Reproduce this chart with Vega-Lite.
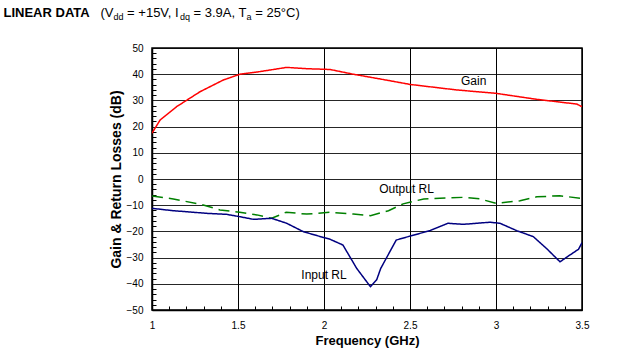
{
  "$schema": "https://vega.github.io/schema/vega-lite/v6.json",
  "autosize": "none",
  "width": 430,
  "height": 262,
  "padding": {"left": 152, "top": 48, "right": 39, "bottom": 46},
  "background": "white",
  "config": {
    "view": {"stroke": "black", "strokeWidth": 1.5},
    "font": "Liberation Sans",
    "axisTop": {
      "domain": false, "ticks": false, "labels": false, "grid": false,
      "titleFont": "Liberation Sans", "titleColor": "black", "titleFontSize": 13,
      "titleFontWeight": "normal", "titleBaseline": "alphabetic", "titleAlign": "left",
      "titleAngle": 0, "titleY": -31.5
    }
  },
  "datasets": {
    "curves": [
      {"f": 1.0, "db": 17.5, "s": "Gain"},
      {"f": 1.047, "db": 22.5, "s": "Gain"},
      {"f": 1.143, "db": 27.6, "s": "Gain"},
      {"f": 1.279, "db": 33.3, "s": "Gain"},
      {"f": 1.415, "db": 37.8, "s": "Gain"},
      {"f": 1.512, "db": 40.0, "s": "Gain"},
      {"f": 1.628, "db": 41.0, "s": "Gain"},
      {"f": 1.783, "db": 42.6, "s": "Gain"},
      {"f": 1.9, "db": 42.1, "s": "Gain"},
      {"f": 2.035, "db": 41.8, "s": "Gain"},
      {"f": 2.17, "db": 40.0, "s": "Gain"},
      {"f": 2.384, "db": 37.5, "s": "Gain"},
      {"f": 2.5, "db": 36.1, "s": "Gain"},
      {"f": 2.77, "db": 34.0, "s": "Gain"},
      {"f": 3.0, "db": 32.7, "s": "Gain"},
      {"f": 3.237, "db": 30.4, "s": "Gain"},
      {"f": 3.47, "db": 28.6, "s": "Gain"},
      {"f": 3.5, "db": 27.6, "s": "Gain"},

      {"f": 1.0, "db": -6.5, "s": "Output RL"},
      {"f": 1.124, "db": -7.6, "s": "Output RL"},
      {"f": 1.298, "db": -9.9, "s": "Output RL"},
      {"f": 1.395, "db": -11.8, "s": "Output RL"},
      {"f": 1.51, "db": -12.7, "s": "Output RL"},
      {"f": 1.61, "db": -13.7, "s": "Output RL"},
      {"f": 1.696, "db": -15.0, "s": "Output RL"},
      {"f": 1.78, "db": -12.7, "s": "Output RL"},
      {"f": 1.9, "db": -13.4, "s": "Output RL"},
      {"f": 2.035, "db": -12.7, "s": "Output RL"},
      {"f": 2.17, "db": -13.4, "s": "Output RL"},
      {"f": 2.27, "db": -14.0, "s": "Output RL"},
      {"f": 2.375, "db": -12.1, "s": "Output RL"},
      {"f": 2.46, "db": -9.5, "s": "Output RL"},
      {"f": 2.58, "db": -7.6, "s": "Output RL"},
      {"f": 2.81, "db": -7.0, "s": "Output RL"},
      {"f": 2.907, "db": -7.6, "s": "Output RL"},
      {"f": 3.0, "db": -9.3, "s": "Output RL"},
      {"f": 3.14, "db": -8.3, "s": "Output RL"},
      {"f": 3.237, "db": -6.8, "s": "Output RL"},
      {"f": 3.37, "db": -6.4, "s": "Output RL"},
      {"f": 3.5, "db": -7.4, "s": "Output RL"},

      {"f": 1.0, "db": -11.2, "s": "Input RL"},
      {"f": 1.124, "db": -12.1, "s": "Input RL"},
      {"f": 1.318, "db": -13.1, "s": "Input RL"},
      {"f": 1.434, "db": -13.5, "s": "Input RL"},
      {"f": 1.512, "db": -14.4, "s": "Input RL"},
      {"f": 1.59, "db": -15.4, "s": "Input RL"},
      {"f": 1.696, "db": -15.0, "s": "Input RL"},
      {"f": 1.783, "db": -16.9, "s": "Input RL"},
      {"f": 1.88, "db": -20.1, "s": "Input RL"},
      {"f": 1.996, "db": -22.3, "s": "Input RL"},
      {"f": 2.035, "db": -23.0, "s": "Input RL"},
      {"f": 2.11, "db": -25.2, "s": "Input RL"},
      {"f": 2.19, "db": -34.1, "s": "Input RL"},
      {"f": 2.27, "db": -41.1, "s": "Input RL"},
      {"f": 2.306, "db": -38.5, "s": "Input RL"},
      {"f": 2.33, "db": -34.1, "s": "Input RL"},
      {"f": 2.42, "db": -23.3, "s": "Input RL"},
      {"f": 2.5, "db": -21.8, "s": "Input RL"},
      {"f": 2.616, "db": -19.7, "s": "Input RL"},
      {"f": 2.72, "db": -16.9, "s": "Input RL"},
      {"f": 2.81, "db": -17.3, "s": "Input RL"},
      {"f": 2.965, "db": -16.5, "s": "Input RL"},
      {"f": 3.023, "db": -16.9, "s": "Input RL"},
      {"f": 3.12, "db": -19.7, "s": "Input RL"},
      {"f": 3.217, "db": -22.0, "s": "Input RL"},
      {"f": 3.295, "db": -26.6, "s": "Input RL"},
      {"f": 3.372, "db": -31.6, "s": "Input RL"},
      {"f": 3.43, "db": -29.0, "s": "Input RL"},
      {"f": 3.48, "db": -26.8, "s": "Input RL"},
      {"f": 3.5, "db": -24.3, "s": "Input RL"}
    ],
    "labels": [
      {"f": 2.87, "db": 37.4, "t": "Gain"},
      {"f": 2.48, "db": -3.8, "t": "Output RL"},
      {"f": 2.0, "db": -36.6, "t": "Input RL"}
    ],
    "ticks": [
      {"f": 1.0, "db": 0}
    ]
  },
  "resolve": {"axis": {"x": "independent", "y": "independent"}},
  "layer": [
    {
      "data": {"name": "ticks"},
      "mark": {"type": "point", "opacity": 0},
      "encoding": {
        "x": {
          "field": "f", "type": "quantitative",
          "scale": {"domain": [1, 3.5], "nice": false, "zero": false},
          "axis": {
            "orient": "bottom",
            "values": [1.1,1.2,1.3,1.4,1.6,1.7,1.8,1.9,2.1,2.2,2.3,2.4,2.6,2.7,2.8,2.9,3.1,3.2,3.3,3.4],
            "labels": false, "grid": false, "domain": false, "title": null,
            "ticks": true, "tickSize": -4, "tickColor": "black", "tickWidth": 1
          }
        },
        "y": {
          "field": "db", "type": "quantitative",
          "scale": {"domain": [-50, 50], "nice": false, "zero": false},
          "axis": {
            "orient": "left",
            "values": [-48,-46,-44,-42,-38,-36,-34,-32,-28,-26,-24,-22,-18,-16,-14,-12,-8,-6,-4,-2,2,4,6,8,12,14,16,18,22,24,26,28,32,34,36,38,42,44,46,48],
            "labels": false, "grid": false, "domain": false, "title": null,
            "ticks": true, "tickSize": -4, "tickColor": "black", "tickWidth": 1
          }
        }
      }
    },
    {
      "data": {"name": "ticks"},
      "mark": {"type": "point", "opacity": 0},
      "encoding": {"x": {"field": "f", "type": "quantitative", "scale": {"domain": [1, 3.5], "nice": false, "zero": false},
        "axis": {"orient": "top", "title": "LINEAR DATA", "titleX": -149, "titleFontWeight": "bold"}}}
    },
    {
      "data": {"name": "ticks"},
      "mark": {"type": "point", "opacity": 0},
      "encoding": {"x": {"field": "f", "type": "quantitative", "scale": {"domain": [1, 3.5], "nice": false, "zero": false},
        "axis": {"orient": "top", "title": "(V", "titleX": -52}}}
    },
    {
      "data": {"name": "ticks"},
      "mark": {"type": "point", "opacity": 0},
      "encoding": {"x": {"field": "f", "type": "quantitative", "scale": {"domain": [1, 3.5], "nice": false, "zero": false},
        "axis": {"orient": "top", "title": "dd", "titleX": -39, "titleY": -28.5, "titleFontSize": 9}}}
    },
    {
      "data": {"name": "ticks"},
      "mark": {"type": "point", "opacity": 0},
      "encoding": {"x": {"field": "f", "type": "quantitative", "scale": {"domain": [1, 3.5], "nice": false, "zero": false},
        "axis": {"orient": "top", "title": "= +15V, I", "titleX": -25.4}}}
    },
    {
      "data": {"name": "ticks"},
      "mark": {"type": "point", "opacity": 0},
      "encoding": {"x": {"field": "f", "type": "quantitative", "scale": {"domain": [1, 3.5], "nice": false, "zero": false},
        "axis": {"orient": "top", "title": "dq", "titleX": 27.4, "titleY": -28.5, "titleFontSize": 9}}}
    },
    {
      "data": {"name": "ticks"},
      "mark": {"type": "point", "opacity": 0},
      "encoding": {"x": {"field": "f", "type": "quantitative", "scale": {"domain": [1, 3.5], "nice": false, "zero": false},
        "axis": {"orient": "top", "title": "= 3.9A, T", "titleX": 41}}}
    },
    {
      "data": {"name": "ticks"},
      "mark": {"type": "point", "opacity": 0},
      "encoding": {"x": {"field": "f", "type": "quantitative", "scale": {"domain": [1, 3.5], "nice": false, "zero": false},
        "axis": {"orient": "top", "title": "a", "titleX": 94.1, "titleY": -28.5, "titleFontSize": 9}}}
    },
    {
      "data": {"name": "ticks"},
      "mark": {"type": "point", "opacity": 0},
      "encoding": {"x": {"field": "f", "type": "quantitative", "scale": {"domain": [1, 3.5], "nice": false, "zero": false},
        "axis": {"orient": "top", "title": "= 25°C)", "titleX": 102.7}}}
    },
    {
      "data": {"name": "curves"},
      "mark": {"type": "line", "strokeWidth": 1.5, "clip": true},
      "encoding": {
        "x": {
          "field": "f", "type": "quantitative",
          "scale": {"domain": [1, 3.5], "nice": false, "zero": false},
          "axis": {
            "orient": "bottom",
            "values": [1, 1.5, 2, 2.5, 3, 3.5],
            "format": "~g",
            "grid": true, "gridColor": "black", "gridOpacity": 1, "gridWidth": 1,
            "ticks": false,
            "domain": true, "domainColor": "black", "domainWidth": 1.5,
            "labelFont": "Liberation Sans", "labelFontSize": 10, "labelColor": "black",
            "labelPadding": 10, "labelFlush": false,
            "title": "Frequency (GHz)",
            "titleFont": "Liberation Sans", "titleFontSize": 13, "titleFontWeight": "bold",
            "titleColor": "black", "titlePadding": 4
          }
        },
        "y": {
          "field": "db", "type": "quantitative",
          "scale": {"domain": [-50, 50], "nice": false, "zero": false},
          "axis": {
            "orient": "left",
            "values": [-50, -40, -30, -20, -10, 0, 10, 20, 30, 40, 50],
            "grid": true, "gridColor": "black", "gridOpacity": 0.85, "gridWidth": 1,
            "ticks": false,
            "domain": true, "domainColor": "black", "domainWidth": 1.5,
            "labelFont": "Liberation Sans", "labelFontSize": 10, "labelColor": "black",
            "labelPadding": 9, "labelFlush": false,
            "title": "Gain & Return Losses (dB)",
            "titleFont": "Liberation Sans", "titleFontSize": 14, "titleFontWeight": "bold",
            "titleColor": "black", "titlePadding": 3
          }
        },
        "color": {
          "field": "s", "type": "nominal",
          "scale": {"domain": ["Gain", "Output RL", "Input RL"], "range": ["#FF0000", "#008000", "#000080"]},
          "legend": null
        },
        "strokeDash": {
          "field": "s", "type": "nominal",
          "scale": {"domain": ["Gain", "Output RL", "Input RL"], "range": [[1, 0], [11, 6], [1, 0]]},
          "legend": null
        }
      }
    },
    {
      "data": {"name": "labels"},
      "mark": {"type": "text", "font": "Liberation Sans", "fontSize": 12, "color": "black"},
      "encoding": {
        "x": {"field": "f", "type": "quantitative", "scale": {"domain": [1, 3.5], "nice": false, "zero": false}, "axis": null},
        "y": {"field": "db", "type": "quantitative", "scale": {"domain": [-50, 50], "nice": false, "zero": false}, "axis": null},
        "text": {"field": "t"}
      }
    }
  ]
}
